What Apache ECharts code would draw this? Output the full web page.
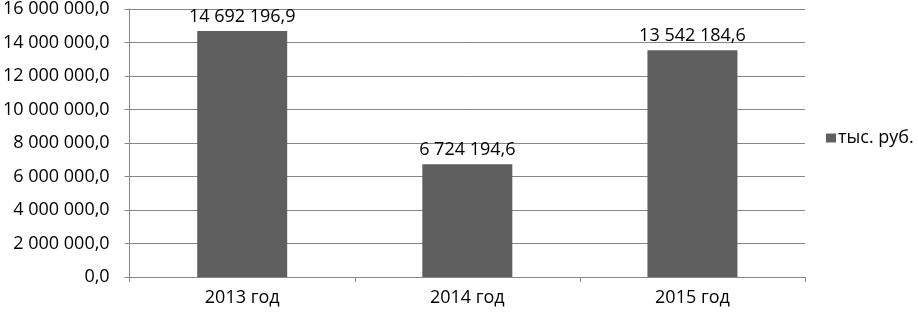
<!DOCTYPE html>
<html><head><meta charset="utf-8">
<script src="https://cdn.jsdelivr.net/npm/echarts@6/dist/echarts.min.js"></script>
<style>html,body{margin:0;padding:0;background:#fff}#c{width:918px;height:313px}</style>
</head><body><div id="c"></div>
<script>
var categories = ['2013 год', '2014 год', '2015 год'];
var values = [14692196.9, 6724194.6, 13542184.6];
var seriesName = 'тыс. руб.';
var yMin = 0, yMax = 16000000, yStep = 2000000;

function fmt(v) {
  var s = v.toFixed(1).split('.');
  var ip = s[0].replace(/\B(?=(\d{3})+(?!\d))/g, ' ');
  return ip + ',' + s[1];
}
var FONT = 'Open Sans';
var FS = 18;
var chart = echarts.init(document.getElementById('c'), null, {renderer: 'canvas'});
chart.setOption({
  animation: false,
  textStyle: {fontFamily: FONT},
  grid: {left: 127, right: 113, top: 7, bottom: 36, containLabel: false},
  legend: {
    left: 826, top: 129, orient: 'vertical', padding: 0,
    icon: 'rect', itemWidth: 10, itemHeight: 9, itemGap: 4,
    textStyle: {fontFamily: FONT, fontSize: FS, color: '#000', padding: [0,0,0,-3]},
    data: [seriesName]
  },
  xAxis: {
    type: 'category', data: categories,
    axisLine: {lineStyle: {color: '#868686', width: 1}},
    axisTick: {show: true, length: 5, lineStyle: {color: '#868686'}},
    axisLabel: {color: '#000', fontSize: FS, fontFamily: FONT, margin: 12}
  },
  yAxis: {
    type: 'value', min: yMin, max: yMax, interval: yStep,
    axisLine: {show: true, lineStyle: {color: '#868686', width: 1}},
    axisTick: {show: true, length: 5, lineStyle: {color: '#868686'}},
    splitLine: {lineStyle: {color: '#868686', width: 1}},
    axisLabel: {color: '#000', fontSize: FS, fontFamily: FONT, margin: 20, formatter: fmt}
  },
  series: [{
    name: seriesName, type: 'bar', data: values, barWidth: 90,
    itemStyle: {color: '#5f5f5f'},
    label: {show: true, position: 'top', distance: 5, color: '#000', fontSize: FS, fontFamily: FONT, formatter: function(p){return fmt(p.value);}}
  }]
});
</script></body></html>
